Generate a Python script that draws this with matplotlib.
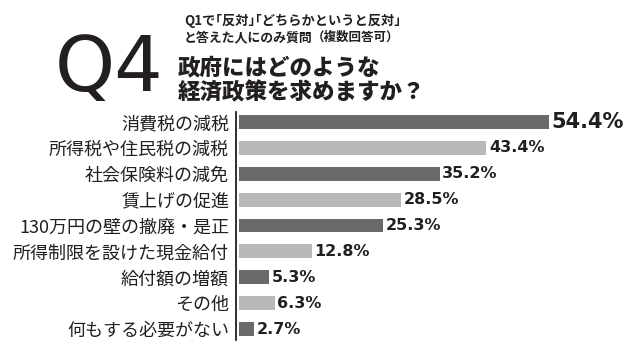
import matplotlib
matplotlib.use("Agg")
import matplotlib.pyplot as plt

plt.rcParams['font.family'] = ['Noto Sans CJK JP', 'DejaVu Sans']

# data
categories = ["消費税の減税", "所得税や住民税の減税", "社会保険料の減免", "賃上げの促進",
              "130万円の壁の撤廃・是正", "所得制限を設けた現金給付", "給付額の増額",
              "その他", "何もする必要がない"]
values = [54.4, 43.4, 35.2, 28.5, 25.3, 12.8, 5.3, 6.3, 2.7]
value_labels = ["54.4%", "43.4%", "35.2%", "28.5%", "25.3%", "12.8%", "5.3%", "6.3%", "2.7%"]

dark = "#6a6a6a"
light = "#b8b8b8"
ink = "#231f20"
colors = [dark if i % 2 == 0 else light for i in range(len(values))]

fig = plt.figure(figsize=(6.4, 3.51), dpi=100)
# axes spans from the vertical line (x=236px) to the right edge
ax = fig.add_axes([236/640, 1 - 340/351, 404/640, (340 - 112)/351])

px = 5.7          # pixels per percent
gap = 3 / px      # bars start a little right of the axis line
y = range(len(values))
ax.barh(y, values, height=0.54, color=colors, left=gap)
ax.set_xlim(0, 404/px)
ax.set_ylim(len(values) - 1 + 0.425, -0.386)

for i, (v, lab) in enumerate(zip(values, value_labels)):
    size = 15 if i == 0 else 11.5
    ax.text(v + gap + 0.45, i, lab, va="center", ha="left", fontsize=size,
            fontweight="bold", family="DejaVu Sans", color=ink)

ax.set_yticks(list(y))
ax.set_yticklabels(categories, fontsize=13, color=ink)
ax.tick_params(axis="y", length=0, pad=5)
ax.set_xticks([])
for s in ["top", "right", "bottom"]:
    ax.spines[s].set_visible(False)
ax.spines["left"].set_linewidth(1.3)
ax.spines["left"].set_color(ink)

# title block
fig.text(55/640, 1 - 91/351, "Q4", fontsize=55, family="DejaVu Sans",
         color=ink, ha="left", va="baseline")
fig.text(184/640, 1 - 25/351, "Q1で｢反対｣｢どちらかというと反対｣", fontsize=9.5,
         fontweight="bold", color=ink, ha="left", va="baseline")
fig.text(184/640, 1 - 41/351, "と答えた人にのみ質問", fontsize=9.3,
         fontweight="bold", color=ink, ha="left", va="baseline")
fig.text(312/640, 1 - 41/351, "（複数回答可）", fontsize=9,
         fontweight="bold", color=ink, ha="left", va="baseline")
fig.text(178/640, 1 - 74/351, "政府にはどのような", fontsize=16.2,
         fontweight="black", color=ink, ha="left", va="baseline")
fig.text(178/640, 1 - 99/351, "経済政策を求めますか？", fontsize=16.2,
         fontweight="black", color=ink, ha="left", va="baseline")

fig.savefig("out.png", dpi=100, facecolor="white")
